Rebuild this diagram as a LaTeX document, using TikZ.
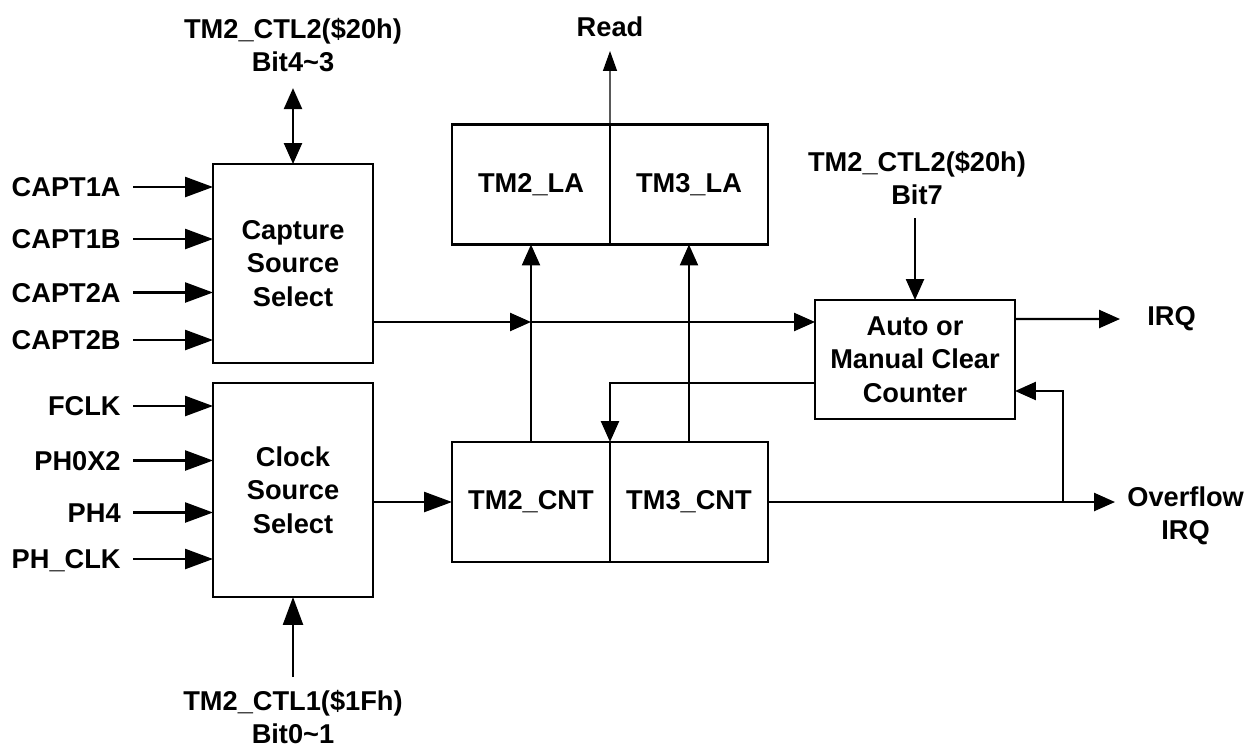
\documentclass[tikz,border=0pt]{standalone}
\usepackage{fontspec}
\setmainfont{Liberation Sans}
\usetikzlibrary{arrows.meta, positioning}

\begin{document}
\begin{tikzpicture}[
    x=0.02cm, y=-0.02cm,
    font=\fontsize{15.5}{19}\selectfont\bfseries,
    >={Triangle[length=0.42cm, width=0.36cm]},
    box_blk/.style={draw, line width=1.4pt, align=center, inner sep=0pt, outer sep=0pt},
    box_sel/.style={box_blk, minimum width=3.2cm},
    box_reg/.style={box_blk, minimum width=3.16cm, minimum height=2.4cm},
    lbl_sig/.style={inner sep=0pt, text height=11pt, text depth=0pt, anchor=east},
    lbl_ctl/.style={inner sep=0pt, align=center, anchor=north},
    arrow/.style={->, line width=1.4pt},
    arrow_in/.style={-{Triangle[length=0.56cm, width=0.4cm]}, line width=1.4pt}
]
\useasboundingbox (0,0) rectangle (1253,751);

% Select blocks
\node[box_sel, minimum height=3.98cm] (cap) at (293,263.5) {Capture\\Source\\Select};
\node[box_sel, minimum height=4.28cm] (clk) at (293,490) {Clock\\Source\\Select};

% Latch and counter registers
\node[box_reg] (la2) at (531,184.5) {TM2\_LA};
\node[box_reg, right=0pt of la2] (la3) {TM3\_LA};
\node[box_reg] (cnt2) at (531,502) {TM2\_CNT};
\node[box_reg, right=0pt of cnt2] (cnt3) {TM3\_CNT};

% Clear control
\node[box_blk, minimum width=4cm, minimum height=2.38cm] (clr) at (915,359.5) {Auto or\\Manual Clear\\Counter};

% Input signals
\node[lbl_sig] (c1a) at (121,187) {CAPT1A};
\node[lbl_sig] (c1b) at (121,239) {CAPT1B};
\node[lbl_sig] (c2a) at (121,292.5) {CAPT2A};
\node[lbl_sig] (c2b) at (121,340) {CAPT2B};
\node[lbl_sig] (fclk) at (121,406) {FCLK};
\node[lbl_sig] (ph0) at (121,460.5) {PH0X2};
\node[lbl_sig] (ph4) at (121,512.5) {PH4};
\node[lbl_sig] (phc) at (121,559) {PH\_CLK};

% Control registers
\node[lbl_ctl] (ctla) at (293,18) {TM2\_CTL2(\$20h)\\Bit4\textasciitilde3};
\node[lbl_ctl] (ctlc) at (917,151) {TM2\_CTL2(\$20h)\\Bit7};
\node[lbl_ctl] (ctlb) at (293,690) {TM2\_CTL1(\$1Fh)\\Bit0\textasciitilde1};

% Outputs
\node[inner sep=0pt, anchor=south] (rd) at (610,37.5) {Read};
\node[inner sep=0pt, anchor=west] (irq) at (1147,319) {IRQ};
\node[lbl_ctl, anchor=west] (ovf) at (1127,516) {Overflow\\IRQ};

% Arrows
\draw[arrow_in] ([xshift=0.24cm]c1a.east) -- (c1a -| cap.west);
\draw[arrow_in] ([xshift=0.24cm]c1b.east) -- (c1b -| cap.west);
\draw[arrow_in] ([xshift=0.24cm]c2a.east) -- (c2a -| cap.west);
\draw[arrow_in] ([xshift=0.24cm]c2b.east) -- (c2b -| cap.west);
\draw[arrow_in] ([xshift=0.24cm]fclk.east) -- (fclk -| clk.west);
\draw[arrow_in] ([xshift=0.24cm]ph0.east) -- (ph0 -| clk.west);
\draw[arrow_in] ([xshift=0.24cm]ph4.east) -- (ph4 -| clk.west);
\draw[arrow_in] ([xshift=0.24cm]phc.east) -- (phc -| clk.west);

\draw[<->, line width=1.4pt, shorten <=0.31cm] (cap.north |- ctla.south) -- (cap.north);
\draw[arrow_in, shorten <=0.26cm] (clk.south |- ctlb.north) -- (clk.south);
\draw[arrow, shorten <=0.25cm] (clr.north |- ctlc.south) -- (clr.north);

\draw[arrow_in] (clk.east |- cnt2.west) -- (cnt2.west);

\coordinate (cj) at ([yshift=-1.17cm]cap.east);
\draw[arrow] (cj) -- (cj -| cnt2.north);
\draw[arrow] (cj -| cnt2.north) -- (cj -| clr.west);

\draw[arrow] (cnt2.north) -- (cnt2.north |- la2.south);
\draw[arrow] (cnt3.north) -- (cnt3.north |- la3.south);
\draw[-{Triangle[length=0.4cm, width=0.28cm]}, line width=0.8pt] (la2.north east) -- ([yshift=-0.27cm]rd.south);

\draw[arrow] ([yshift=-0.47cm]clr.west) -| (cnt2.north east);
\draw[arrow, shorten >=0.54cm] ([yshift=0.81cm]clr.east) -- (irq.west);

% Overflow path
\draw[arrow, shorten >=0.24cm] (cnt3.east) -- (cnt3.east -| ovf.west);
\coordinate[right=5.9cm of cnt3.east] (tap);
\draw[arrow] (tap) |- ([yshift=-0.63cm]clr.east);

\end{tikzpicture}
\end{document}
